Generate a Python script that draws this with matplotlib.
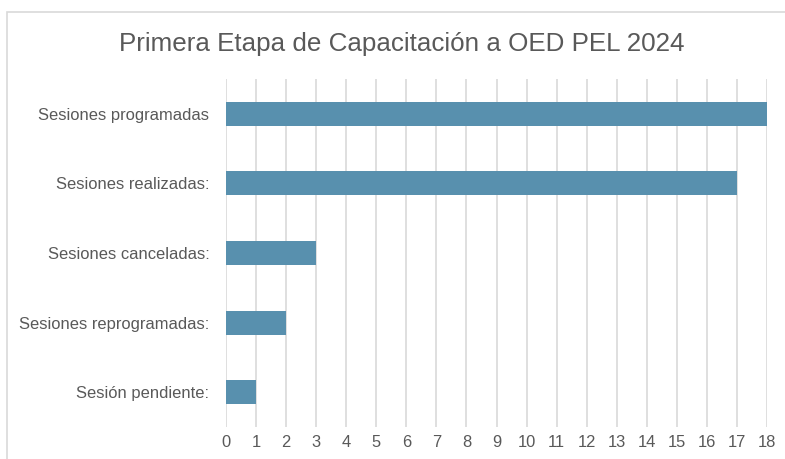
import matplotlib
matplotlib.use("Agg")
import matplotlib.pyplot as plt
from matplotlib.patches import Rectangle

categories = ["Sesiones programadas", "Sesiones realizadas:", "Sesiones canceladas:",
              "Sesiones reprogramadas:", "Sesión pendiente:"]
values = [18, 17, 3, 2, 1]
xticks = list(range(0, 19))

plt.rcParams['font.family'] = ['Liberation Sans', 'DejaVu Sans']
W, H = 785, 459
fig = plt.figure(figsize=(W/100, H/100), dpi=100)
fig.patch.set_facecolor('white')

# outer chart border (cropped on right/bottom)
fig.patches.append(Rectangle((7/W, -0.1), 2.0, (H-12)/H + 0.1, transform=fig.transFigure,
                             fill=False, edgecolor='#D9D9D9', linewidth=1.2))

x0, x1 = 226, 767
y0, y1 = 79, 427
ax = fig.add_axes([x0/W, 1 - y1/H, (x1-x0)/W, (y1-y0)/H])
ypos = list(range(len(categories)))
ax.barh(ypos, values, height=0.345, color='#5890AE', zorder=3)
ax.set_xlim(0, 18)
ax.set_ylim(len(categories) - 0.5, -0.5)
ax.set_xticks(xticks)
ax.set_yticks(ypos)
ax.set_yticklabels(categories)
ax.grid(axis='x', color='#D9D9D9', linewidth=1.2, zorder=0)
for s in ax.spines.values():
    s.set_visible(False)
ax.tick_params(axis='both', length=0, labelsize=11.9, colors='#595959')
ax.tick_params(axis='y', pad=12)
ax.tick_params(axis='x', pad=6)

fig.text(402/W, 1 - 44/H, "Primera Etapa de Capacitación a OED PEL 2024",
         ha='center', va='center', fontsize=18.7, color='#595959')

fig.savefig("out.png", dpi=100)
